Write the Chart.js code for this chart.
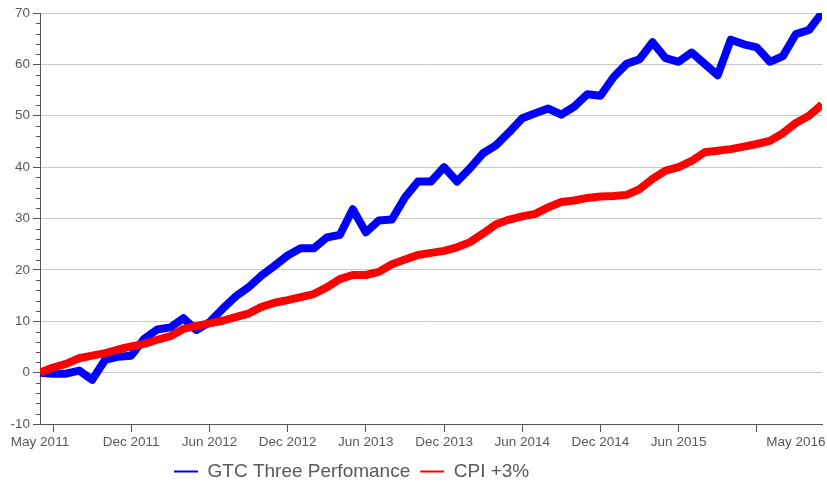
<!DOCTYPE html>
<html>
<head>
<meta charset="utf-8">
<script src="https://cdn.jsdelivr.net/npm/chart.js@4.4.0/dist/chart.umd.min.js"></script>
<style>
  html, body { margin: 0; padding: 0; background: #fff; }
</style>
</head>
<body>
<canvas id="chart" width="827" height="483"></canvas>
<script>
"use strict";

// one value per month, index 0 = May 2011 ... index 60 = May 2016
const gtcThree = [
  0, -0.2, -0.2, 0.4, -1.4, 2.5, 3.1, 3.3, 6.6, 8.4,
  8.8, 10.6, 8.3, 9.8, 12.4, 14.8, 16.6, 18.9, 20.8, 22.8,
  24.2, 24.2, 26.3, 26.8, 31.8, 27.3, 29.6, 29.8, 34.1, 37.2,
  37.2, 40.0, 37.2, 39.8, 42.7, 44.3, 46.8, 49.5, 50.5, 51.4,
  50.2, 51.8, 54.2, 53.9, 57.5, 60.1, 61.0, 64.3, 61.2, 60.5,
  62.3, 60.1, 57.9, 64.8, 63.9, 63.3, 60.5, 61.6, 65.9, 66.7,
  70.0
];
const cpiPlus3 = [
  0, 1.0, 1.7, 2.8, 3.3, 3.8, 4.5, 5.1, 5.6, 6.4,
  7.1, 8.5, 9.1, 9.6, 10.1, 10.8, 11.5, 12.8, 13.6, 14.1,
  14.7, 15.3, 16.6, 18.2, 19.0, 19.0, 19.6, 21.1, 22.0, 22.9,
  23.3, 23.7, 24.4, 25.4, 27.1, 28.9, 29.8, 30.4, 30.9, 32.2,
  33.2, 33.5, 34.0, 34.3, 34.4, 34.6, 35.7, 37.7, 39.3, 40.0,
  41.2, 42.9, 43.2, 43.5, 44.0, 44.5, 45.1, 46.6, 48.6, 50.0,
  52.2
];
const seriesNames = ['GTC Three Perfomance', 'CPI +3%'];
const seriesColors = ['#0000ff', '#ff0000'];

// x ticks (month index) and their labels; Jun 2011 / Dec 2015 have a tick but no label
const tickMonths = [0, 1, 7, 13, 19, 25, 31, 37, 43, 49, 55, 58];
const tickLabels = ['May 2011', '', 'Dec 2011', 'Jun 2012', 'Dec 2012', 'Jun 2013',
  'Dec 2013', 'Jun 2014', 'Dec 2014', 'Jun 2015', '', 'May 2016'];

const axisColor = '#555555';
const gridColor = '#c8c8c8';
const textColor = '#595959';
const fontFamily = "'Liberation Sans', Arial, sans-serif";

function toPoints(values) {
  return values.map((v, i) => ({ x: i, y: v }));
}

// short minor ticks on the y axis (every 2 units)
const minorTicks = {
  id: 'minorTicks',
  afterDraw(chart) {
    const y = chart.scales.y;
    const ctx = chart.ctx;
    const left = chart.chartArea.left;
    ctx.save();
    ctx.strokeStyle = axisColor;
    ctx.lineWidth = 1;
    y.ticks.forEach(t => {
      if (t.value % 10 === 0) return;
      const py = Math.round(y.getPixelForValue(t.value)) + 0.5;
      ctx.beginPath();
      ctx.moveTo(left - 4, py);
      ctx.lineTo(left, py);
      ctx.stroke();
    });
    ctx.restore();
  }
};

// the legend sits left of centre in the original
const legendShift = {
  id: 'legendShift',
  afterLayout(chart) {
    chart.legend.left = 164;
  }
};

new Chart(document.getElementById('chart'), {
  type: 'line',
  data: {
    datasets: [{
      label: seriesNames[0],
      data: toPoints(gtcThree),
      borderColor: seriesColors[0],
      backgroundColor: seriesColors[0],
      borderWidth: 8,
      borderJoinStyle: 'round',
      pointRadius: 0,
      tension: 0,
      fill: false,
      order: 1
    }, {
      label: seriesNames[1],
      data: toPoints(cpiPlus3),
      borderColor: seriesColors[1],
      backgroundColor: seriesColors[1],
      borderWidth: 8,
      borderJoinStyle: 'round',
      pointRadius: 0,
      tension: 0,
      fill: false,
      order: 0
    }]
  },
  options: {
    responsive: false,
    animation: false,
    layout: { padding: { top: 13, right: 5, left: 0, bottom: 0 } },
    scales: {
      x: {
        type: 'linear',
        min: 0,
        max: 60,
        afterBuildTicks: (scale) => { scale.ticks = tickMonths.map(v => ({ value: v })); },
        afterFit: (scale) => { scale.height = 28; scale.paddingLeft = 0; scale.paddingRight = 0; },
        border: { color: axisColor, width: 1 },
        grid: {
          drawOnChartArea: false,
          tickLength: 8,
          tickColor: (c) => (c.index === 0 || c.index === tickMonths.length - 1) ? 'transparent' : axisColor
        },
        ticks: {
          autoSkip: false,
          maxRotation: 0,
          padding: 2,
          color: textColor,
          font: { family: fontFamily, size: 13.5 },
          callback: (value, index) => tickLabels[index]
        }
      },
      y: {
        min: -10,
        max: 70,
        afterFit: (scale) => { scale.width = 40; scale.paddingTop = 0; scale.paddingBottom = 0; },
        border: { color: axisColor, width: 1 },
        grid: {
          color: (c) => c.tick.value % 10 === 0 ? gridColor : 'transparent',
          tickColor: (c) => c.tick.value % 10 === 0 ? axisColor : 'transparent',
          tickLength: 7
        },
        ticks: {
          stepSize: 2,
          autoSkip: false,
          padding: 3,
          color: textColor,
          font: { family: fontFamily, size: 13.5 },
          callback: (value) => value % 10 === 0 ? String(value) : ''
        }
      }
    },
    plugins: {
      tooltip: { enabled: false },
      legend: {
        position: 'bottom',
        align: 'start',
        maxHeight: 31,
        labels: {
          boxWidth: 24,
          boxHeight: 2,
          padding: 10,
          color: textColor,
          font: { family: fontFamily, size: 19 },
          sort: (a, b) => a.datasetIndex - b.datasetIndex,
          generateLabels: (chart) => Chart.defaults.plugins.legend.labels.generateLabels(chart)
            .map(item => Object.assign(item, { fillStyle: item.strokeStyle, lineWidth: 0 }))
        }
      }
    }
  },
  plugins: [minorTicks, legendShift]
});
</script>
</body>
</html>
